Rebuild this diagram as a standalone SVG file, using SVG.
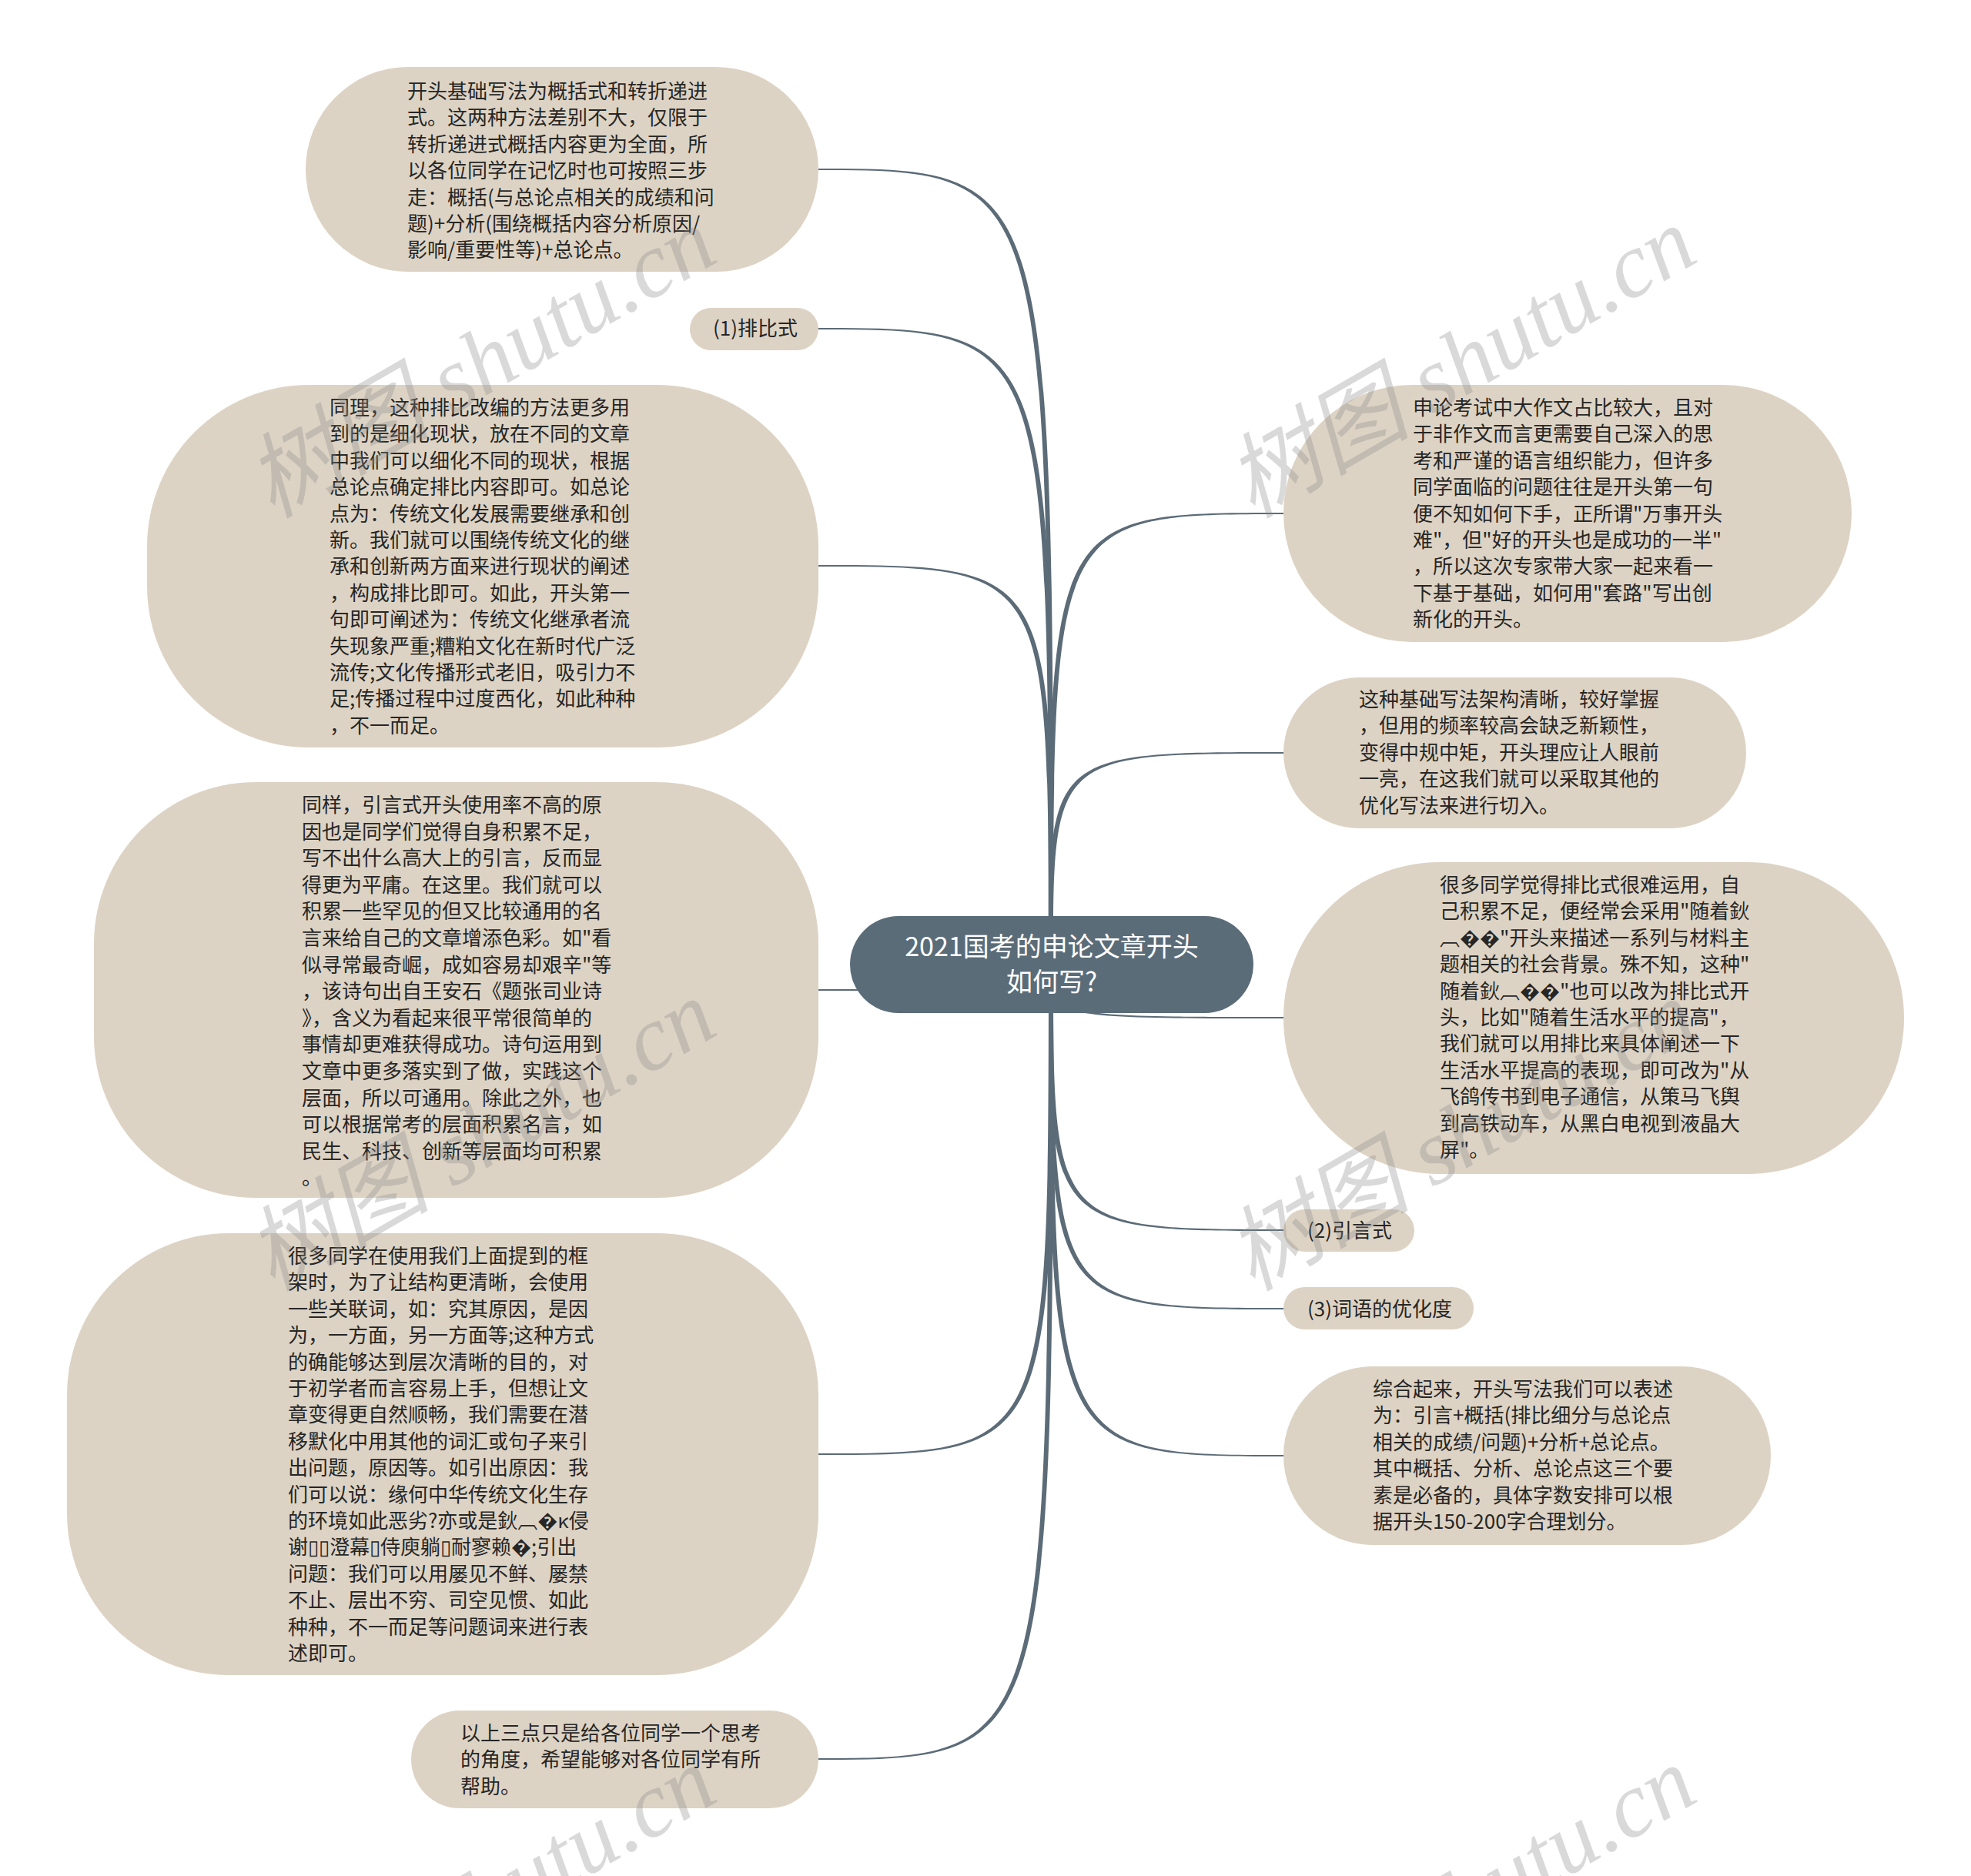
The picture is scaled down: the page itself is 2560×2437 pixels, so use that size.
<svg xmlns="http://www.w3.org/2000/svg" width="2560" height="2437" viewBox="0 0 2560 2437">
<style>
.bg{fill:#ffffff}
.n{fill:#ddd3c4}
.root{fill:#5b6c79}
.c{fill:#5b6b77}
.t{font-family:"Noto Sans CJK SC","Noto Sans",sans-serif;font-size:26px;fill:#262626}
.rt{font-family:"Noto Sans CJK SC","Noto Sans",sans-serif;font-size:34px;fill:#ffffff;text-anchor:middle}
.wm{font-family:"Liberation Serif","Noto Sans CJK SC",serif;font-style:italic;font-size:120px;fill:#8a8a8a;fill-opacity:0.32;text-anchor:middle}
</style>
<rect class="bg" x="0" y="0" width="2560" height="2437"/>
<g id="connectors">
<path class="c" d="M1368 1253 C1368 219 1368 219 1058 219 L1058 221 C1362 221 1362 221 1362 1253 Z"/>
<path class="c" d="M1368 1253 C1368 426 1368 426 1058 426 L1058 428 C1362 428 1362 428 1362 1253 Z"/>
<path class="c" d="M1368 1253 C1368 734 1368 734 1058 734 L1058 736 C1362 736 1362 736 1362 1253 Z"/>
<path class="c" d="M1368 1253 C1368 1287 1368 1287 1058 1287 L1058 1285 C1362 1285 1362 1285 1362 1253 Z"/>
<path class="c" d="M1368 1253 C1368 1890 1368 1890 1058 1890 L1058 1888 C1362 1888 1362 1888 1362 1253 Z"/>
<path class="c" d="M1368 1253 C1368 2286 1368 2286 1058 2286 L1058 2284 C1362 2284 1362 2284 1362 1253 Z"/>
<path class="c" d="M1368 1253 C1368 668 1368 668 1672 668 L1672 666 C1362 666 1362 666 1362 1253 Z"/>
<path class="c" d="M1368 1253 C1368 979 1368 979 1672 979 L1672 977 C1362 977 1362 977 1362 1253 Z"/>
<path class="c" d="M1368 1253 C1368 1321 1368 1321 1672 1321 L1672 1323 C1362 1323 1362 1323 1362 1253 Z"/>
<path class="c" d="M1368 1253 C1368 1597 1368 1597 1672 1597 L1672 1599 C1362 1599 1362 1599 1362 1253 Z"/>
<path class="c" d="M1368 1253 C1368 1699 1368 1699 1672 1699 L1672 1701 C1362 1701 1362 1701 1362 1253 Z"/>
<path class="c" d="M1368 1253 C1368 1890 1368 1890 1672 1890 L1672 1892 C1362 1892 1362 1892 1362 1253 Z"/>
</g>
<g id="root">
<rect class="root" x="1104" y="1190" width="524" height="126" rx="63"/>
<text class="rt" x="1366" y="1242">2021国考的申论文章开头</text>
<text class="rt" x="1366" y="1288">如何写?</text>
</g>
<g id="n1">
<rect class="n" x="397" y="87" width="666" height="266" rx="133"/>
<text class="t" x="529" y="128"><tspan x="529">开头基础写法为概括式和转折递进</tspan><tspan x="529" dy="34.4">式。这两种方法差别不大，仅限于</tspan><tspan x="529" dy="34.4">转折递进式概括内容更为全面，所</tspan><tspan x="529" dy="34.4">以各位同学在记忆时也可按照三步</tspan><tspan x="529" dy="34.4">走：概括(与总论点相关的成绩和问</tspan><tspan x="529" dy="34.4">题)+分析(围绕概括内容分析原因/</tspan><tspan x="529" dy="34.4">影响/重要性等)+总论点。</tspan></text>
</g>
<g id="n2">
<rect class="n" x="896" y="400" width="167" height="55" rx="27.5"/>
<text class="t" x="926" y="436">(1)排比式</text>
</g>
<g id="n3">
<rect class="n" x="191" y="500" width="872" height="471" rx="210"/>
<text class="t" x="428" y="539"><tspan x="428">同理，这种排比改编的方法更多用</tspan><tspan x="428" dy="34.4">到的是细化现状，放在不同的文章</tspan><tspan x="428" dy="34.4">中我们可以细化不同的现状，根据</tspan><tspan x="428" dy="34.4">总论点确定排比内容即可。如总论</tspan><tspan x="428" dy="34.4">点为：传统文化发展需要继承和创</tspan><tspan x="428" dy="34.4">新。我们就可以围绕传统文化的继</tspan><tspan x="428" dy="34.4">承和创新两方面来进行现状的阐述</tspan><tspan x="428" dy="34.4">，构成排比即可。如此，开头第一</tspan><tspan x="428" dy="34.4">句即可阐述为：传统文化继承者流</tspan><tspan x="428" dy="34.4">失现象严重;糟粕文化在新时代广泛</tspan><tspan x="428" dy="34.4">流传;文化传播形式老旧，吸引力不</tspan><tspan x="428" dy="34.4">足;传播过程中过度西化，如此种种</tspan><tspan x="428" dy="34.4">，不一而足。</tspan></text>
</g>
<g id="n4">
<rect class="n" x="122" y="1016" width="941" height="540" rx="210"/>
<text class="t" x="392" y="1055"><tspan x="392">同样，引言式开头使用率不高的原</tspan><tspan x="392" dy="34.6">因也是同学们觉得自身积累不足，</tspan><tspan x="392" dy="34.6">写不出什么高大上的引言，反而显</tspan><tspan x="392" dy="34.6">得更为平庸。在这里。我们就可以</tspan><tspan x="392" dy="34.6">积累一些罕见的但又比较通用的名</tspan><tspan x="392" dy="34.6">言来给自己的文章增添色彩。如"看</tspan><tspan x="392" dy="34.6">似寻常最奇崛，成如容易却艰辛"等</tspan><tspan x="392" dy="34.6">，该诗句出自王安石《题张司业诗</tspan><tspan x="392" dy="34.6">》，含义为看起来很平常很简单的</tspan><tspan x="392" dy="34.6">事情却更难获得成功。诗句运用到</tspan><tspan x="392" dy="34.6">文章中更多落实到了做，实践这个</tspan><tspan x="392" dy="34.6">层面，所以可通用。除此之外，也</tspan><tspan x="392" dy="34.6">可以根据常考的层面积累名言，如</tspan><tspan x="392" dy="34.6">民生、科技、创新等层面均可积累</tspan><tspan x="392" dy="34.6">。</tspan></text>
</g>
<g id="n5">
<rect class="n" x="87" y="1602" width="976" height="574" rx="210"/>
<text class="t" x="374" y="1641"><tspan x="374">很多同学在使用我们上面提到的框</tspan><tspan x="374" dy="34.4">架时，为了让结构更清晰，会使用</tspan><tspan x="374" dy="34.4">一些关联词，如：究其原因，是因</tspan><tspan x="374" dy="34.4">为，一方面，另一方面等;这种方式</tspan><tspan x="374" dy="34.4">的确能够达到层次清晰的目的，对</tspan><tspan x="374" dy="34.4">于初学者而言容易上手，但想让文</tspan><tspan x="374" dy="34.4">章变得更自然顺畅，我们需要在潜</tspan><tspan x="374" dy="34.4">移默化中用其他的词汇或句子来引</tspan><tspan x="374" dy="34.4">出问题，原因等。如引出原因：我</tspan><tspan x="374" dy="34.4">们可以说：缘何中华传统文化生存</tspan><tspan x="374" dy="34.4">的环境如此恶劣?亦或是鈥︹�κ侵</tspan><tspan x="374" dy="34.4">谢▯▯澄幕▯侍庾躺▯耐寥赖�;引出</tspan><tspan x="374" dy="34.4">问题：我们可以用屡见不鲜、屡禁</tspan><tspan x="374" dy="34.4">不止、层出不穷、司空见惯、如此</tspan><tspan x="374" dy="34.4">种种，不一而足等问题词来进行表</tspan><tspan x="374" dy="34.4">述即可。</tspan></text>
</g>
<g id="n6">
<rect class="n" x="534" y="2222" width="529" height="127" rx="63.5"/>
<text class="t" x="598" y="2261"><tspan x="598">以上三点只是给各位同学一个思考</tspan><tspan x="598" dy="34.4">的角度，希望能够对各位同学有所</tspan><tspan x="598" dy="34.4">帮助。</tspan></text>
</g>
<g id="n7">
<rect class="n" x="1667" y="500" width="738" height="334" rx="167"/>
<text class="t" x="1835" y="539"><tspan x="1835">申论考试中大作文占比较大，且对</tspan><tspan x="1835" dy="34.4">于非作文而言更需要自己深入的思</tspan><tspan x="1835" dy="34.4">考和严谨的语言组织能力，但许多</tspan><tspan x="1835" dy="34.4">同学面临的问题往往是开头第一句</tspan><tspan x="1835" dy="34.4">便不知如何下手，正所谓"万事开头</tspan><tspan x="1835" dy="34.4">难"，但"好的开头也是成功的一半"</tspan><tspan x="1835" dy="34.4">，所以这次专家带大家一起来看一</tspan><tspan x="1835" dy="34.4">下基于基础，如何用"套路"写出创</tspan><tspan x="1835" dy="34.4">新化的开头。</tspan></text>
</g>
<g id="n8">
<rect class="n" x="1667" y="880" width="601" height="196" rx="98"/>
<text class="t" x="1765" y="918"><tspan x="1765">这种基础写法架构清晰，较好掌握</tspan><tspan x="1765" dy="34.4">，但用的频率较高会缺乏新颖性，</tspan><tspan x="1765" dy="34.4">变得中规中矩，开头理应让人眼前</tspan><tspan x="1765" dy="34.4">一亮，在这我们就可以采取其他的</tspan><tspan x="1765" dy="34.4">优化写法来进行切入。</tspan></text>
</g>
<g id="n9">
<rect class="n" x="1667" y="1120" width="806" height="405" rx="202"/>
<text class="t" x="1870" y="1159"><tspan x="1870">很多同学觉得排比式很难运用，自</tspan><tspan x="1870" dy="34.4">己积累不足，便经常会采用"随着鈥</tspan><tspan x="1870" dy="34.4">︹��"开头来描述一系列与材料主</tspan><tspan x="1870" dy="34.4">题相关的社会背景。殊不知，这种"</tspan><tspan x="1870" dy="34.4">随着鈥︹��"也可以改为排比式开</tspan><tspan x="1870" dy="34.4">头，比如"随着生活水平的提高"，</tspan><tspan x="1870" dy="34.4">我们就可以用排比来具体阐述一下</tspan><tspan x="1870" dy="34.4">生活水平提高的表现，即可改为"从</tspan><tspan x="1870" dy="34.4">飞鸽传书到电子通信，从策马飞舆</tspan><tspan x="1870" dy="34.4">到高铁动车，从黑白电视到液晶大</tspan><tspan x="1870" dy="34.4">屏"。</tspan></text>
</g>
<g id="n10">
<rect class="n" x="1667" y="1571" width="170" height="55" rx="27.5"/>
<text class="t" x="1698" y="1608">(2)引言式</text>
</g>
<g id="n11">
<rect class="n" x="1667" y="1672" width="247" height="55" rx="27.5"/>
<text class="t" x="1698" y="1710">(3)词语的优化度</text>
</g>
<g id="n12">
<rect class="n" x="1667" y="1775" width="633" height="232" rx="116"/>
<text class="t" x="1783" y="1814"><tspan x="1783">综合起来，开头写法我们可以表述</tspan><tspan x="1783" dy="34.4">为：引言+概括(排比细分与总论点</tspan><tspan x="1783" dy="34.4">相关的成绩/问题)+分析+总论点。</tspan><tspan x="1783" dy="34.4">其中概括、分析、总论点这三个要</tspan><tspan x="1783" dy="34.4">素是必备的，具体字数安排可以根</tspan><tspan x="1783" dy="34.4">据开头150-200字合理划分。</tspan></text>
</g>
<g id="watermark">
<text class="wm" transform="translate(645,506) rotate(-30)">树图 shutu.cn</text>
<text class="wm" transform="translate(1918,506) rotate(-30)">树图 shutu.cn</text>
<text class="wm" transform="translate(645,1510) rotate(-30)">树图 shutu.cn</text>
<text class="wm" transform="translate(1918,1510) rotate(-30)">树图 shutu.cn</text>
<text class="wm" transform="translate(645,2506) rotate(-30)">树图 shutu.cn</text>
<text class="wm" transform="translate(1918,2506) rotate(-30)">树图 shutu.cn</text>
</g>
</svg>
